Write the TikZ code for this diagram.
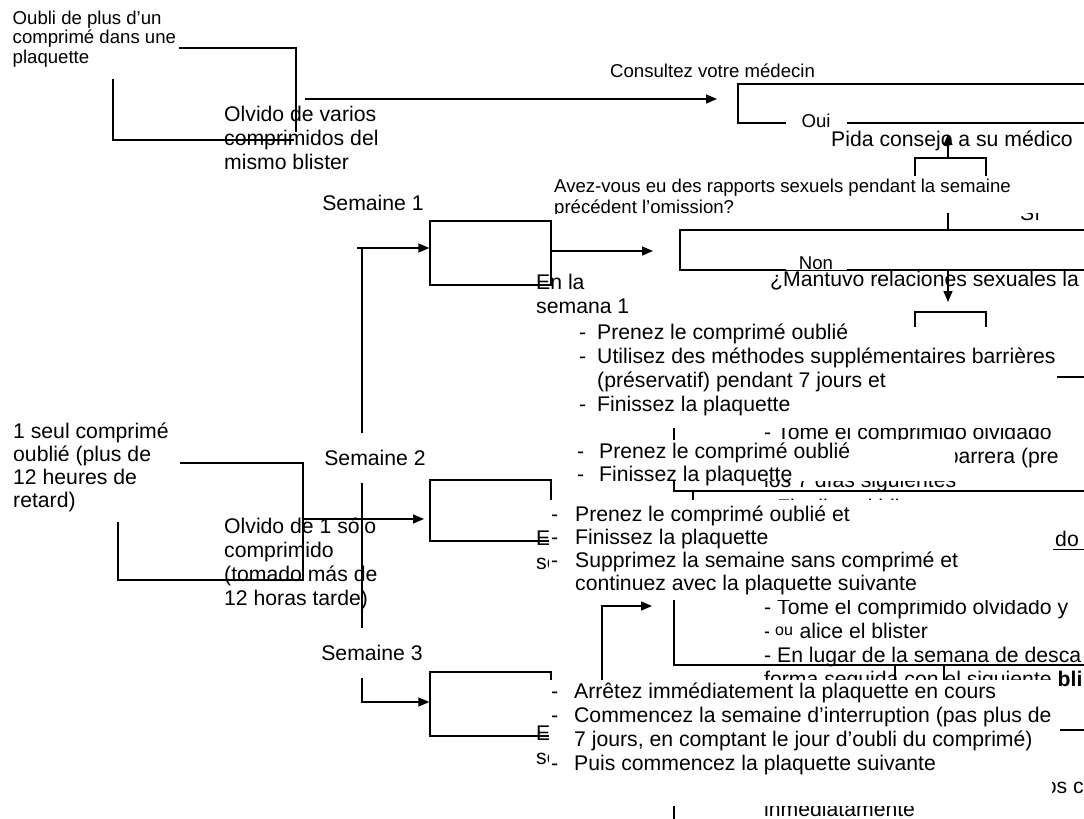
\documentclass[tikz,border=0pt]{standalone}
\usepackage{fontspec}
\setmainfont{Liberation Sans}
\usetikzlibrary{arrows.meta}
\newcommand\fmain{\fontsize{21.2}{24}\selectfont}
\newcommand\fsmall{\fontsize{18.6}{20.8}\selectfont}
\newlength\dashw
\newcommand\dli[1]{\makebox[\dashw][l]{-}#1}
\newcommand\cli[1]{\hspace*{\dashw}#1}
\newcommand\tbox[2]{\parbox[t]{#1}{\raggedright #2}}
\tikzset{
  txt/.style={anchor=base west, inner sep=0pt},
  mask/.style={fill=white, draw=none},
  ln/.style={line width=1.4pt},
  arr/.style={line width=1.4pt, -{Triangle[length=11pt,width=9pt]}},
  frame/.style={draw, line width=1.3pt, inner sep=0pt},
  week/.style={fill=white, inner sep=0pt, minimum height=50pt, minimum width=108pt, font=\fmain},
  yesno/.style={fill=white, inner sep=0pt, minimum height=14pt, minimum width=61pt, font=\fsmall},
}
\begin{document}
\begin{tikzpicture}[x=1pt,y=-1pt]
\useasboundingbox (0,0) rectangle (1084,819);
\clip (0,0) rectangle (1084,819);
\fill[white] (0,0) rectangle (1084,819);
% ---------- Spanish layer (underneath) ----------
\node[txt] (es1) at (224,121) {\tbox{200pt}{\fontsize{21.2}{24}\selectfont Olvido de varios\\comprimidos del\\mismo blister}};
\node[txt] (es2) at (224,533) {\tbox{200pt}{\fontsize{21.2}{24}\selectfont Olvido de 1 sólo\\comprimido\\(tomado más de\\12 horas tarde)}};
\node[txt] (pida) at (831,146) {\fmain Pida consejo a su médico};
\node[txt] (si) at (1020,220) {\fmain Sí};
\node[txt] (mant) at (770,286) {\fmain ¿Mantuvo relaciones sexuales la};
\node[txt] (enla1) at (536,289) {\tbox{100pt}{\fmain En la\\semana 1}};
\node[txt] (enla2) at (536,545) {\tbox{100pt}{\fmain En la\\semana 2}};
\node[txt] (enla3) at (536,740) {\tbox{100pt}{\fmain En la\\semana 3}};
\node[txt] (esA) at (764,439) {\tbox{340pt}{\fmain - Tome el comprimido olvidado\\- Utilice un método barrera (pre\\los 7 días siguientes}};
\node[txt] (esA4) at (764,514) {\fmain - Finalice el blister};
\node[txt] (esB) at (764,614) {\tbox{340pt}{\fmain - Tome el comprimido olvidado y\\- finalice el blister\\- En lugar de la semana de desca\\forma seguida con el siguiente \textbf{bli}}};
\node[txt] (losc) at (1040,793) {\fmain los c};
\node[txt] (inmed) at (764,816) {\fmain inmediatamente};
\node[txt] (do) at (1055,546) {\fmain do};
% ---------- lines and boxes ----------
\coordinate (g1a) at (179,48);
\coordinate (g1b) at (296,48);
\coordinate (g1c) at (296,132);
\coordinate (g1d) at (113,79);
\coordinate (g1e) at (113,140);
\coordinate (g1f) at (294,140);
\draw[ln] (g1a) -- (g1b) -- (g1c);
\draw[ln] (g1d) -- (g1e) -- (g1f);
\node[frame, minimum width=185pt, minimum height=117pt] (g2) at (210.5,521.5) {};
\node[frame, minimum width=382pt, minimum height=39pt] (boui) at (929,103.5) {};
\node[frame, minimum width=440pt, minimum height=40pt] (bnon) at (900,250) {};
\node[frame, minimum width=121pt, minimum height=64pt] (s1) at (490.5,253) {};
\node[frame, minimum width=121pt, minimum height=61pt] (s2) at (490.5,510.5) {};
\node[frame, minimum width=121pt, minimum height=64pt] (s3) at (490.5,704) {};
% arrows from the two groups
\coordinate (g1out) at (305,99);
\coordinate (ouiin) at (717,99);
\draw[arr] (g1out) -- (ouiin);
\coordinate (s2in) at (424,519);
\draw[arr] (g2.east |- s2in) -- (s2in);
% week line
\coordinate (wa) at (357,248);
\coordinate (wk) at (362,248);
\coordinate (wb) at (362,702);
\draw[arr] (wa) -- (s1.west |- wa);
\draw[arr] (wk) -- (wb) -- (s3.west |- wb);
% S1 to question
\coordinate (qin) at (653,251);
\draw[arr] (s1.east |- qin) -- (qin);
% upper bracket and arrow
\coordinate (b1l) at (915,182);
\coordinate (b1lt) at (915,158);
\coordinate (b1rt) at (986,158);
\coordinate (b1r) at (986,182);
\coordinate (b1m) at (948,158);
\coordinate (b1tip) at (948,134);
\draw[ln] (b1l) -- (b1lt) -- (b1rt) -- (b1r);
\draw[arr] (b1m) -- (b1tip);
\coordinate (qa) at (948,200);
\draw[ln] (qa) -- (bnon.north -| qa);
% lower bracket and arrow
\coordinate (nontip) at (948,302);
\draw[arr] (bnon.south -| nontip) -- (nontip);
\coordinate (b2l) at (915,335);
\coordinate (b2lt) at (915,312);
\coordinate (b2rt) at (986,312);
\coordinate (b2r) at (986,335);
\draw[ln] (b2l) -- (b2lt) -- (b2rt) -- (b2r);
% right column frames
\coordinate (ra1) at (674,330);
\coordinate (ra2) at (674,491);
\coordinate (ra3) at (1090,491);
\draw[ln] (ra1) -- (ra2) -- (ra3);
\coordinate (rt1) at (693,491);
\coordinate (rt2) at (693,510);
\draw[ln] (rt1) -- (rt2);
\coordinate (rb1) at (674,596);
\coordinate (rb2) at (674,665);
\coordinate (rb3) at (1090,665);
\draw[ln] (rb1) -- (rb2) -- (rb3);
\coordinate (k1a) at (895,665);
\coordinate (k1b) at (895,692);
\coordinate (k2a) at (944,665);
\coordinate (k2b) at (944,692);
\draw[ln] (k1a) -- (k1b);
\draw[ln] (k2a) -- (k2b);
\coordinate (rc1) at (674,790);
\coordinate (rc2) at (674,819);
\draw[ln] (rc1) -- (rc2);
\coordinate (h1a) at (1057,377);
\coordinate (h1b) at (1090,377);
\draw[ln] (h1a) -- (h1b);
\coordinate (h2a) at (1060,730);
\coordinate (h2b) at (1090,730);
\draw[ln] (h2a) -- (h2b);
\coordinate (ul1) at (1053,549);
\coordinate (ul2) at (1090,549);
\draw[line width=1pt] (ul1) -- (ul2);
% elbow arrow
\coordinate (e1) at (602,690);
\coordinate (e2) at (602,606);
\coordinate (e3) at (652,606);
\draw[arr] (e1) -- (e2) -- (e3);
% ---------- French layer (on top, white backgrounds) ----------
\fill[mask] (0,0) rectangle (179,79);
\node[txt] (fr1) at (12.5,24) {\tbox{170pt}{\fontsize{18.6}{19.5}\selectfont Oubli de plus d’un\\comprimé dans une\\plaquette}};
\node[txt] (consult) at (610,77) {\fsmall Consultez votre médecin};
\fill[mask] (550,176) rectangle (1042,213);
\begin{scope}
\clip (550,176) rectangle (1042,213);
\node[txt] (avez) at (554,192) {\tbox{480pt}{\fontsize{18.6}{21}\selectfont Avez-vous eu des rapports sexuels pendant la semaine\\précédent l’omission?}};
\end{scope}
\node[yesno] (oui) at (816,121) {Oui};
\node[yesno] (non) at (816,263) {Non};
\node[week] (w1) at (373,203) {Semaine 1};
\node[week] (w2) at (375,458) {Semaine 2};
\node[week] (w3) at (372,653) {Semaine 3};
\fill[mask] (0,418) rectangle (180,522);
\node[txt] (fr2) at (13,438) {\tbox{170pt}{\fontsize{21.2}{23.3}\selectfont 1 seul comprimé\\oublié (plus de\\12 heures de\\retard)}};
\fill[mask] (560,327) rectangle (1050,428);
\node[txt] (l1) at (579,339) {\setlength\dashw{18pt}\tbox{500pt}{\fmain \dli{Prenez le comprimé oublié}\\\dli{Utilisez des méthodes supplémentaires barrières}\\\cli{(préservatif) pendant 7 jours et}\\\dli{Finissez la plaquette}}};
\fill[mask] (568,440) rectangle (955,481);
\node[txt] (l2a) at (577,458) {\setlength\dashw{22pt}\tbox{400pt}{\fontsize{21.2}{23}\selectfont \dli{Prenez le comprimé oublié}\\\dli{Finissez la plaquette}}};
\fill[mask] (549,500) rectangle (1052,600);
\node[txt] (l2b) at (551,521) {\setlength\dashw{24pt}\tbox{500pt}{\fontsize{21.2}{23}\selectfont \dli{Prenez le comprimé oublié et}\\\dli{Finissez la plaquette}\\\dli{Supprimez la semaine sans comprimé et}\\\cli{continuez avec la plaquette suivante}}};
\node[fill=white, inner sep=0pt, minimum width=30pt, minimum height=18pt, font=\fontsize{16}{18}\selectfont] (ou) at (784,631) {ou};
\fill[mask] (549,680) rectangle (1052,806);
\node[txt] (l3) at (551,698) {\setlength\dashw{23pt}\tbox{520pt}{\fmain \dli{Arrêtez immédiatement la plaquette en cours}\\\dli{Commencez la semaine d’interruption (pas plus de}\\\cli{7 jours, en comptant le jour d’oubli du comprimé)}\\\dli{Puis commencez la plaquette suivante}}};
\end{tikzpicture}
\end{document}
